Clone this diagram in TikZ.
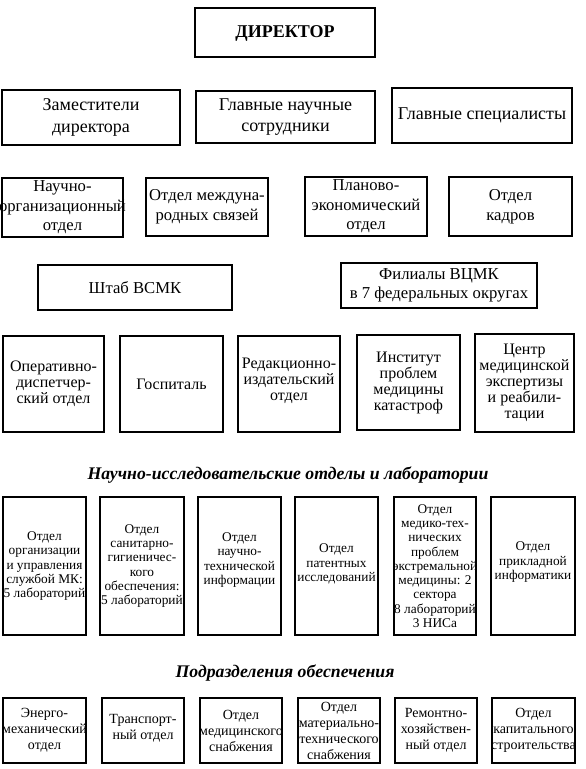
\documentclass[tikz,border=0pt]{standalone}
\usepackage{fontspec}
\setmainfont{Liberation Serif}
\usepackage{tikz}

\begin{document}
\begin{tikzpicture}[x=0.75pt,y=0.75pt,yscale=-1,xscale=1,
  unit/.style={line width=1.1},
  lbl/.style={inner sep=0.75pt,align=center},
  bigtxt/.style={lbl,font=\fontsize{13.5}{16}\selectfont},
  midtxt/.style={lbl,font=\fontsize{12.5}{14.7}\selectfont},
  labtxt/.style={lbl,font=\fontsize{12}{12}\selectfont},
  smalltxt/.style={lbl,font=\fontsize{10}{10.7}\selectfont},
  suptxt/.style={lbl,font=\fontsize{10.5}{12}\selectfont},
  headtxt/.style={lbl,font=\fontsize{13.3}{15}\selectfont\bfseries\itshape}]
\useasboundingbox (0,0) rectangle (586,769);

%Shape: Rectangle [director]
\draw [unit] (195,8) rectangle (375,57) ;
% Text Node
\node [bigtxt] (dir) at (285,33) {\textbf{ДИРЕКТОР}};

%Shape: Rectangle [row 2]
\draw [unit] (2,90) rectangle (180,145) ;
\draw [unit] (196,91) rectangle (375,143) ;
\draw [unit] (392,88) rectangle (572,143) ;
% Text Node
\node [bigtxt] (zam) at (91,117.5) {Заместители\\директора};
% Text Node
\node [bigtxt] (gns) at (285.5,117) {Главные научные\\сотрудники};
% Text Node
\node [bigtxt] (gsp) at (482,115.5) {Главные специалисты};

%Shape: Rectangle [row 3]
\draw [unit] (2,178) rectangle (123,237) ;
\draw [unit] (146,178) rectangle (268,236) ;
\draw [unit] (305,177) rectangle (427,236) ;
\draw [unit] (449,177) rectangle (572,236) ;
% Text Node
\node [midtxt] (nio) at (62.5,207.5) {Научно-\\организационный\\отдел};
% Text Node
\node [midtxt] (omc) at (207,207) {Отдел междуна-\\родных связей};
% Text Node
\node [midtxt] (peo) at (366,206.5) {Планово-\\экономический\\отдел};
% Text Node
\node [midtxt] (okd) at (510.5,206.5) {Отдел\\кадров};

%Shape: Rectangle [row 4]
\draw [unit] (38,265) rectangle (232,310) ;
\draw [unit] (341,263) rectangle (537,308) ;
% Text Node
\node [midtxt] (shtab) at (135,287.5) {Штаб ВСМК};
% Text Node
\node [midtxt] (fil) at (439,285.5) {Филиалы ВЦМК\\в 7 федеральных округах};

%Shape: Rectangle [row 5]
\draw [unit] (3,336) rectangle (104,432) ;
\draw [unit] (120,336) rectangle (223,432) ;
\draw [unit] (238,336) rectangle (340,432) ;
\draw [unit] (357,335) rectangle (460,430) ;
\draw [unit] (475,334) rectangle (574,432) ;
% Text Node
\node [labtxt] (opd) at (53.5,384) {Оперативно-\\диспетчер-\\ский отдел};
% Text Node
\node [labtxt] (gos) at (171.5,384) {Госпиталь};
% Text Node
\node [labtxt] (rio) at (289,381) {Редакционно-\\издательский\\отдел};
% Text Node
\node [labtxt] (ipm) at (408.5,382.5) {Институт\\проблем\\медицины\\катастроф};
% Text Node
\node [labtxt] (cme) at (524.5,383) {Центр\\медицинской\\экспертизы\\и реабили-\\тации};

% Text Node [research units]
\node [headtxt] (nihead) at (288,475) {Научно-исследовательские отделы и лаборатории};

%Shape: Rectangle [row 6]
\draw [unit] (3,497) rectangle (86,635) ;
\draw [unit] (100,497) rectangle (184,635) ;
\draw [unit] (198,497) rectangle (281,635) ;
\draw [unit] (295,497) rectangle (378,635) ;
\draw [unit] (394,497) rectangle (476,635) ;
\draw [unit] (491,497) rectangle (575,635) ;
% Text Node
\node [smalltxt] (oum) at (44.5,566) {Отдел\\организации\\и управления\\службой МК:\\5 лабораторий};
% Text Node
\node [smalltxt] (osg) at (142,566) {Отдел\\санитарно-\\гигиеничес-\\кого\\обеспечения:\\5 лабораторий};
% Text Node
\node [smalltxt] (onti) at (239.5,560) {Отдел\\научно-\\технической\\информации};
% Text Node
\node [smalltxt] (opi) at (336.5,564) {Отдел\\патентных\\исследований};
% Text Node
\node [smalltxt] (omtp) at (435,566) {Отдел\\медико-тех-\\нических\\проблем\\экстремальной\\медицины: 2\\сектора\\8 лабораторий\\3 НИСа};
% Text Node
\node [smalltxt] (opinf) at (533,562) {Отдел\\прикладной\\информатики};

% Text Node [support units]
\node [headtxt] (suphead) at (285,673) {Подразделения обеспечения};

%Shape: Rectangle [row 7]
\draw [unit] (3,698) rectangle (86,763) ;
\draw [unit] (102,698) rectangle (184,763) ;
\draw [unit] (200,698) rectangle (282,763) ;
\draw [unit] (298,698) rectangle (380,763) ;
\draw [unit] (395,698) rectangle (477,763) ;
\draw [unit] (492,698) rectangle (575,763) ;
% Text Node
\node [suptxt] (emo) at (44.5,730.5) {Энерго-\\механический\\отдел};
% Text Node
\node [suptxt] (tro) at (143,728) {Транспорт-\\ный отдел};
% Text Node
\node [suptxt] (oms) at (241,730.5) {Отдел\\медицинского\\снабжения};
% Text Node
\node [suptxt] (omts) at (339,730.5) {Отдел\\материально-\\технического\\снабжения};
% Text Node
\node [suptxt] (rho) at (436,730.5) {Ремонтно-\\хозяйствен-\\ный отдел};
% Text Node
\node [suptxt] (oks) at (533.5,730.5) {Отдел\\капитального\\строительства};

\end{tikzpicture}
\end{document}
